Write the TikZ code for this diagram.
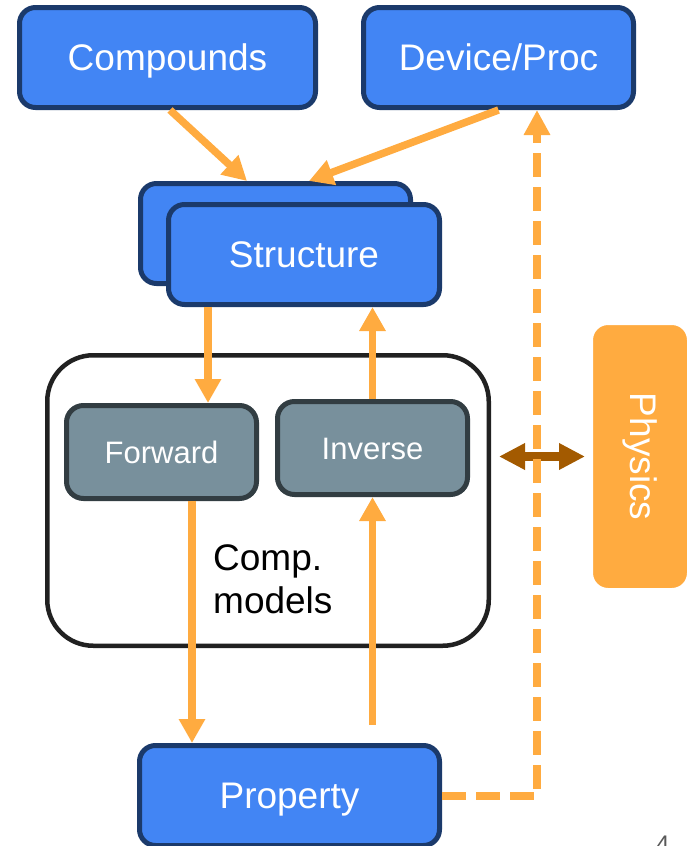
\documentclass[tikz,border=0pt]{standalone}
\usepackage{fontspec}
\setmainfont{Liberation Sans}
\usepackage{graphicx}
\usetikzlibrary{arrows.meta,shadows,calc}
\definecolor{bluefill}{HTML}{4285F4}
\definecolor{blueedge}{HTML}{1B3A6B}
\definecolor{grayfill}{HTML}{78909C}
\definecolor{grayedge}{HTML}{323D42}
\definecolor{orng}{HTML}{FFAB40}
\definecolor{brwn}{HTML}{A35A00}
\begin{document}
\begin{tikzpicture}[x=1pt,y=-1pt,
  bluebox/.style={draw=blueedge, fill=bluefill, line width=5pt, rounded corners=16pt, text=white,
    font=\fontsize{37}{44}\selectfont, inner sep=0pt, text height=26.5pt, text depth=0pt},
  graybox/.style={draw=grayedge, fill=grayfill, line width=5pt, rounded corners=17pt, text=white,
    font=\fontsize{31}{37}\selectfont, inner sep=0pt, minimum width=190pt, minimum height=93pt,
    text height=22.2pt, text depth=0pt},
  arr/.style={draw=orng, line width=7.5pt, -{Triangle[width=25pt,length=24pt]}},
  dasharr/.style={draw=orng, line width=8pt, dash pattern=on 24pt off 10pt, -{Triangle[width=25pt,length=25pt]}},
  brwnarr/.style={draw=brwn, line width=9pt, {Triangle[width=25pt,length=26pt]}-{Triangle[width=25pt,length=26pt]}}
]
\useasboundingbox (0,0) rectangle (690,846);

\node[bluebox, minimum width=296pt, minimum height=100pt] (comp) at (167.5,57.5) {Compounds};
\node[bluebox, minimum width=270pt, minimum height=100pt] (dev) at (498.5,57.5) {Device/Proc};
\node[bluebox, minimum width=270pt, minimum height=100pt] (sback) at (275.5,233.5) {};
\node[bluebox, minimum width=271pt, minimum height=100pt] (sfront) at (304,254.5) {Structure};

\node[draw=black!87, fill=white, line width=4.5pt, rounded corners=46pt,
  minimum width=441.5pt, minimum height=290.5pt] (cont) at (268,500.5) {};
\node[graybox] (fwd) at (161.5,452) {Forward};
\node[graybox] (inv) at (372.5,448) {Inverse};
\node[anchor=west, align=left, font=\fontsize{37}{43}\selectfont, inner sep=0pt] (cm) at (213,579) {Comp.\\models};

\node[bluebox, minimum width=300pt, minimum height=100pt] (prop) at (289.5,795.5) {Property};

\node[fill=orng, draw=white, line width=8pt, rounded corners=19pt, minimum width=102pt, minimum height=271pt,
  text=white, font=\fontsize{37}{44}\selectfont, inner sep=0pt,
  drop shadow={shadow xshift=1pt, shadow yshift=-3pt, opacity=0.2, fill=black}] (phys) at (640,456.5) {\rotatebox{-90}{Physics}};

\node[anchor=north west, text=black!65, font=\fontsize{24}{28}\selectfont, inner sep=0pt] (pg) at (656,836) {4};

\draw[arr] ([xshift=2.5pt]comp.south) -- ([xshift=-28.5pt]sback.north);
\draw[arr] (dev.south) -- ([xshift=33.5pt]sback.north);
\draw[arr] ([xshift=-96pt]sfront.south) -- ([xshift=-96pt]sfront.south |- fwd.north);
\draw[arr] ([xshift=30.5pt]fwd.south) -- ([xshift=30.5pt]fwd.south |- prop.north);
\draw[arr] (inv.north) -- (inv.north |- sfront.south);
\coordinate (pin) at (372.5,725);
\draw[arr] (pin) -- (inv.south);

\draw[brwnarr] ([xshift=8pt]cont.east |- phys.west) -- (phys.west);
\draw[dasharr] (prop.east) -| ([xshift=38.5pt]dev.south);
\end{tikzpicture}
\end{document}
